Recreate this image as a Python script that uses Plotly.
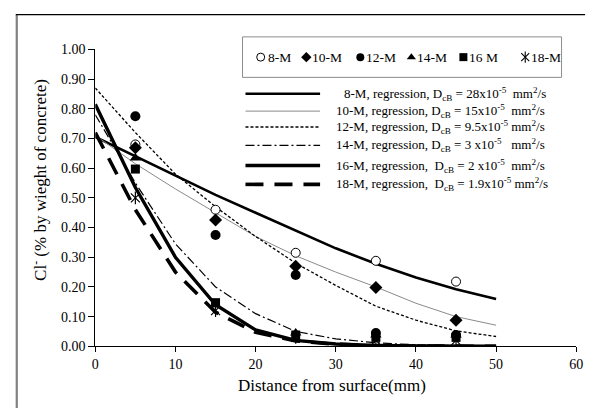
import plotly.graph_objects as go

# ---------------- data ----------------
x_pts = [5, 15, 25, 35, 45]
m8 = [0.68, 0.46, 0.315, 0.288, 0.218]
m10 = [0.669, 0.425, 0.27, 0.198, 0.088]
m12 = [0.775, 0.375, 0.24, 0.045, 0.038]
m14 = [0.634, 0.14, 0.045, 0.038, 0.038]
m16 = [0.597, 0.147, 0.038, 0.03, 0.03]
m18 = [0.50, 0.12, 0.03, 0.02, 0.02]

x_fit = [0, 5, 10, 15, 20, 25, 30, 35, 40, 45, 50]
c8 = [0.705, 0.64, 0.575, 0.51, 0.45, 0.39, 0.33, 0.278, 0.232, 0.192, 0.159]
c10 = [0.71, 0.615, 0.53, 0.45, 0.37, 0.305, 0.25, 0.20, 0.145, 0.10, 0.071]
c12 = [0.87, 0.72, 0.58, 0.47, 0.37, 0.28, 0.205, 0.135, 0.088, 0.052, 0.033]
c14 = [0.78, 0.55, 0.345, 0.20, 0.11, 0.05, 0.025, 0.012, 0.005, 0.002, 0.001]
c16 = [0.815, 0.535, 0.30, 0.14, 0.055, 0.02, 0.008, 0.003, 0.001, 0.0, 0.0]
c18 = [0.72, 0.46, 0.25, 0.115, 0.047, 0.018, 0.007, 0.002, 0.001, 0.0, 0.0]

x_ticks = [0, 10, 20, 30, 40, 50, 60]
y_ticks = [0.0, 0.1, 0.2, 0.3, 0.4, 0.5, 0.6, 0.7, 0.8, 0.9, 1.0]

marker_names = ["8-M", "10-M", "12-M", "14-M", "16 M", "18-M"]
reg_labels = [
    "8-M, regression, D<sub>cB</sub> = 28x10<sup>-5</sup>\u00a0 mm<sup>2</sup>/s",
    "10-M, regression, D<sub>cB</sub> = 15x10<sup>-5</sup>\u00a0 mm<sup>2</sup>/s",
    "12-M, regression, D<sub>cB</sub> = 9.5x10<sup>-5</sup> mm<sup>2</sup>/s",
    "14-M, regression, D<sub>cB</sub> = 3 x10<sup>-5</sup>\u00a0\u00a0 mm<sup>2</sup>/s",
    "16-M, regression,\u00a0 D<sub>cB</sub> = 2 x10<sup>-5</sup>\u00a0 mm<sup>2</sup>/s",
    "18-M, regression,\u00a0 D<sub>cB</sub> = 1.9x10<sup>-5</sup> mm<sup>2</sup>/s",
]

FONT = "'Liberation Serif', 'Times New Roman', Times, serif"
W, H = 598, 416

# ---------------- styles ----------------
curves = [
    (c8, dict(color="black", width=2.6, dash="solid")),
    (c10, dict(color="#8a8a8a", width=1.0, dash="solid")),
    (c12, dict(color="black", width=1.3, dash="3px,2px")),
    (c14, dict(color="black", width=1.2, dash="9px,3px,2px,3px")),
    (c16, dict(color="black", width=3.4, dash="solid")),
    (c18, dict(color="black", width=3.6, dash="18px,11px")),
]
markers = [
    (m8, dict(symbol="circle", size=9, color="white", line=dict(color="black", width=1))),
    (m10, dict(symbol="diamond", size=10, color="black")),
    (m12, dict(symbol="circle", size=10, color="black")),
    (m14, dict(symbol="triangle-up", size=10, color="black")),
    (m16, dict(symbol="square", size=9, color="black")),
]

fig = go.Figure()

for c, ln in curves:
    fig.add_trace(go.Scatter(x=x_fit, y=c, mode="lines", line=ln, showlegend=False,
                             xaxis="x", yaxis="y"))
for m, mk in markers:
    fig.add_trace(go.Scatter(x=x_pts, y=m, mode="markers", marker=mk, showlegend=False,
                             cliponaxis=False, xaxis="x", yaxis="y"))
for sym in ["x-thin-open", "line-ns-open"]:
    fig.add_trace(go.Scatter(x=x_pts, y=m18, mode="markers",
                             marker=dict(symbol=sym, size=9, color="black",
                                         line=dict(color="black", width=1.2)),
                             showlegend=False, cliponaxis=False, xaxis="x", yaxis="y"))

# ---------------- legend (drawn in pixel-space overlay axes) ----------------
leg_sym_x = [261.5, 308, 363, 415, 468, 531]
leg_txt_x = [267, 312, 367, 419, 472, 535]
leg_y = 52
leg_mk = [
    dict(symbol="circle", size=8, color="white", line=dict(color="black", width=1)),
    dict(symbol="diamond", size=8, color="black"),
    dict(symbol="circle", size=8, color="black"),
    dict(symbol="triangle-up", size=8, color="black"),
    dict(symbol="square", size=8, color="black"),
]
for i, mk in enumerate(leg_mk):
    fig.add_trace(go.Scatter(x=[leg_sym_x[i]], y=[leg_y], mode="markers", marker=mk,
                             showlegend=False, xaxis="x2", yaxis="y2"))
for sym in ["x-thin-open", "line-ns-open"]:
    fig.add_trace(go.Scatter(x=[leg_sym_x[5]], y=[leg_y], mode="markers",
                             marker=dict(symbol=sym, size=8, color="black",
                                         line=dict(color="black", width=1.1)),
                             showlegend=False, xaxis="x2", yaxis="y2"))

row_y = [90, 108, 124.5, 143.5, 164.5, 184]
row_txt_x = [344, 336, 336, 336, 336, 336]
for i, (c, ln) in enumerate(curves):
    fig.add_trace(go.Scatter(x=[246, 322], y=[row_y[i], row_y[i]], mode="lines", line=ln,
                             showlegend=False, xaxis="x2", yaxis="y2"))

annotations = []
for i, name in enumerate(marker_names):
    annotations.append(dict(x=leg_txt_x[i], y=leg_y, xref="x2", yref="y2", text=name,
                            showarrow=False, xanchor="left", yanchor="middle",
                            font=dict(family=FONT, size=13.5, color="black")))
for i, t in enumerate(reg_labels):
    annotations.append(dict(x=row_txt_x[i], y=row_y[i], xref="x2", yref="y2", text=t,
                            showarrow=False, xanchor="left", yanchor="middle",
                            font=dict(family=FONT, size=13, color="black")))
# axis titles
annotations.append(dict(x=334.5, y=393, xref="x2", yref="y2", text="Distance from surface(mm)",
                        showarrow=False, xanchor="center", yanchor="middle",
                        font=dict(family=FONT, size=17, color="black")))
annotations.append(dict(x=35, y=179, xref="x2", yref="y2",
                        text="Cl<sup>-</sup> (% by wieght of concrete)", textangle=-90,
                        showarrow=False, xanchor="center", yanchor="middle",
                        font=dict(family=FONT, size=17, color="black")))

shapes = [
    dict(type="rect", xref="x2", yref="y2", x0=243, x1=568, y0=31, y1=73,
         line=dict(color="#8c8c8c", width=1), fillcolor="white", layer="below"),
    dict(type="line", xref="x2", yref="y2", x0=13, x1=13, y0=8, y1=416,
         line=dict(color="#808080", width=2.2)),
    dict(type="line", xref="x2", yref="y2", x0=12, x1=592, y0=8, y1=8,
         line=dict(color="black", width=1.3)),
]

fig.update_layout(
    width=W, height=H,
    margin=dict(l=0, r=0, t=0, b=0),
    paper_bgcolor="white", plot_bgcolor="rgba(0,0,0,0)",
    font=dict(family=FONT, size=14, color="black"),
    showlegend=False,
    xaxis=dict(domain=[93 / W, 583 / W], range=[0, 60], tickvals=x_ticks,
               ticks="outside", ticklen=5, tickcolor="black", tickwidth=1,
               showline=True, linecolor="black", linewidth=1.2,
               showgrid=False, zeroline=False, anchor="y",
               tickfont=dict(family=FONT, size=14, color="black")),
    yaxis=dict(domain=[1 - 352 / H, 1 - 44 / H], range=[0, 1], tickvals=y_ticks,
               tickformat=".2f", ticks="outside", ticklen=6, tickcolor="black", tickwidth=1,
               showline=True, linecolor="black", linewidth=1.2,
               showgrid=False, zeroline=False, anchor="x",
               tickfont=dict(family=FONT, size=14, color="black")),
    xaxis2=dict(domain=[0, 1], range=[0, W], visible=False, anchor="y2", fixedrange=True),
    yaxis2=dict(domain=[0, 1], range=[H, 0], visible=False, anchor="x2", fixedrange=True),
    annotations=annotations,
    shapes=shapes,
)

fig.write_html("out.html")
